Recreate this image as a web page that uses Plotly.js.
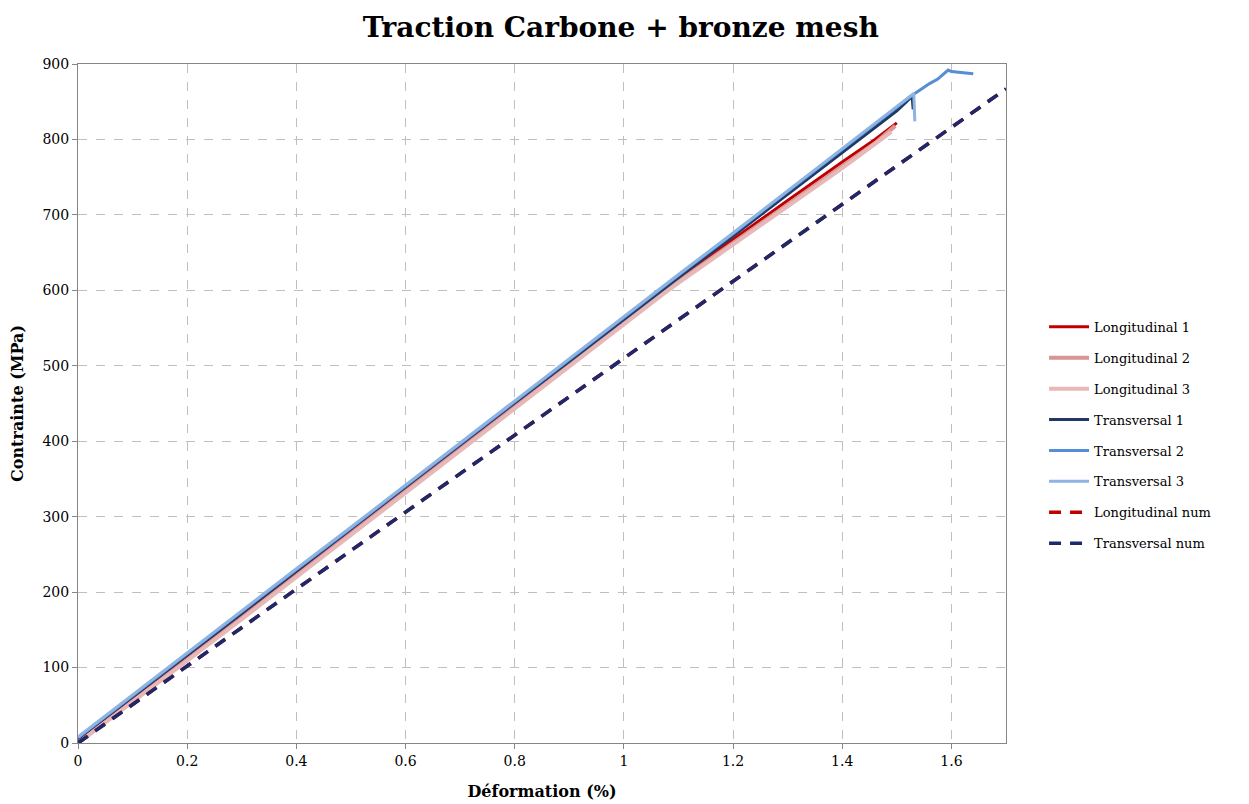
<!DOCTYPE html>
<html>
<head>
<meta charset="utf-8">
<script src="https://cdn.plot.ly/plotly-3.0.1.min.js"></script>
<style>html,body{margin:0;padding:0;background:#fff;}#chart{width:1249px;height:804px;}</style>
</head>
<body>
<div id="chart"></div>
<script>
// Data (strain in %, stress in MPa)
const long1X = [0, 0.1, 0.2, 0.3, 0.4, 0.5, 0.6, 0.7, 0.8, 0.9, 1.0, 1.07, 1.1, 1.2, 1.3, 1.4, 1.46, 1.5];
const long1Y = [2, 58, 113, 169, 225, 281, 337, 393, 449, 505, 561, 600, 616, 668, 719, 770, 800, 822];
const long2X = [0, 0.1, 0.2, 0.3, 0.4, 0.5, 0.6, 0.7, 0.8, 0.9, 1.0, 1.07, 1.1, 1.2, 1.3, 1.4, 1.46, 1.497];
const long2Y = [0, 55, 110, 166, 222, 278, 334, 390, 446, 502, 557, 596, 612, 663, 714, 765, 795, 818];
const long3X = [0, 0.1, 0.2, 0.3, 0.4, 0.5, 0.6, 0.7, 0.8, 0.9, 1.0, 1.07, 1.1, 1.2, 1.3, 1.4, 1.49];
const long3Y = [0, 54, 109, 164, 220, 276, 332, 388, 444, 500, 555, 594, 610, 661, 712, 762, 810];
const trans1X = [0, 0.1, 0.2, 0.3, 0.4, 0.5, 0.6, 0.7, 0.8, 0.9, 1.0, 1.1, 1.2, 1.3, 1.4, 1.5, 1.528, 1.53];
const trans1Y = [6, 61, 117, 172, 228, 284, 339, 395, 451, 506, 562, 617, 672, 727, 782, 838, 857, 840];
const trans2X = [0, 0.1, 0.2, 0.3, 0.4, 0.5, 0.6, 0.7, 0.8, 0.9, 1.0, 1.1, 1.2, 1.3, 1.4, 1.5, 1.535, 1.56, 1.575, 1.594, 1.6, 1.64];
const trans2Y = [7, 63, 118, 174, 230, 285, 341, 397, 453, 508, 564, 620, 675, 731, 787, 843, 862, 874, 880, 892, 890, 887];
const trans3X = [0, 0.1, 0.2, 0.3, 0.4, 0.5, 0.6, 0.7, 0.8, 0.9, 1.0, 1.1, 1.2, 1.3, 1.4, 1.5, 1.531, 1.533];
const trans3Y = [8, 64, 119, 175, 231, 286, 342, 398, 454, 509, 565, 621, 676, 732, 788, 844, 861, 824];
const longNumX = [0, 0.5, 1.0, 1.5, 1.7];
const longNumY = [0, 255, 510, 765, 867];
const transNumX = [0, 0.5, 1.0, 1.5, 1.7];
const transNumY = [0, 255, 510, 765, 867];

const FONT = '"DejaVu Serif", "Liberation Serif", serif';

function solid(name, x, y, color, width) {
  return {type: 'scatter', mode: 'lines', name: name, x: x, y: y, legendgroup: name,
    line: {color: color, width: width}};
}
function dashed(name, x, y, color) {
  return {type: 'scatter', mode: 'lines', name: name, x: x, y: y, legendgroup: name,
    line: {color: color, width: 3.5, dash: '12px,9px'}};
}

const traces = [
  solid('Longitudinal 1', long1X, long1Y, '#C00000', 3),
  solid('Longitudinal 2', long2X, long2Y, '#D99594', 4),
  solid('Longitudinal 3', long3X, long3Y, '#E6B9B8', 4),
  solid('Transversal 1', trans1X, trans1Y, '#1F3864', 3),
  solid('Transversal 2', trans2X, trans2Y, '#558ED5', 3),
  solid('Transversal 3', trans3X, trans3Y, '#8EB4E3', 3),
  dashed('Longitudinal num', longNumX, longNumY, '#C00000'),
  dashed('Transversal num', transNumX, transNumY, '#1A2A6C')
];

const layout = {
  width: 1249, height: 804,
  margin: {l: 78, r: 243, t: 64, b: 61},
  paper_bgcolor: '#fff', plot_bgcolor: '#fff',
  font: {family: FONT, size: 14, color: '#000'},
  title: {text: '<b>Traction Carbone + bronze mesh</b>', x: 0.497, xref: 'container', y: 0.966, yanchor: 'middle',
    font: {family: FONT, size: 28, color: '#000'}},
  xaxis: {range: [0, 1.7], dtick: 0.2, tick0: 0, showgrid: true, gridcolor: '#BFBFBF', griddash: 'dash', gridwidth: 1,
    showline: true, linecolor: '#868686', linewidth: 1, mirror: true, zeroline: false,
    ticks: 'outside', ticklen: 5, tickcolor: '#868686',
    tickfont: {family: FONT, size: 14, color: '#000'},
    title: {text: '<b>Déformation (%)</b>', font: {family: FONT, size: 16, color: '#000'}, standoff: 18}},
  yaxis: {range: [0, 900], dtick: 100, tick0: 0, showgrid: true, gridcolor: '#BFBFBF', griddash: 'dash', gridwidth: 1,
    showline: true, linecolor: '#868686', linewidth: 1, mirror: true, zeroline: false,
    ticks: 'outside', ticklen: 5, tickcolor: '#868686',
    tickfont: {family: FONT, size: 14, color: '#000'},
    title: {text: '<b>Contrainte (MPa)</b>', font: {family: FONT, size: 16, color: '#000'}, standoff: 14}},
  showlegend: true,
  legend: {x: 1.041, xanchor: 'left', y: 0.453, yanchor: 'middle', tracegroupgap: 11,
    font: {family: FONT, size: 13, color: '#000'}, bgcolor: 'rgba(0,0,0,0)', itemwidth: 40}
};

Plotly.newPlot('chart', traces, layout, {displayModeBar: false, staticPlot: true});
</script>
</body>
</html>
